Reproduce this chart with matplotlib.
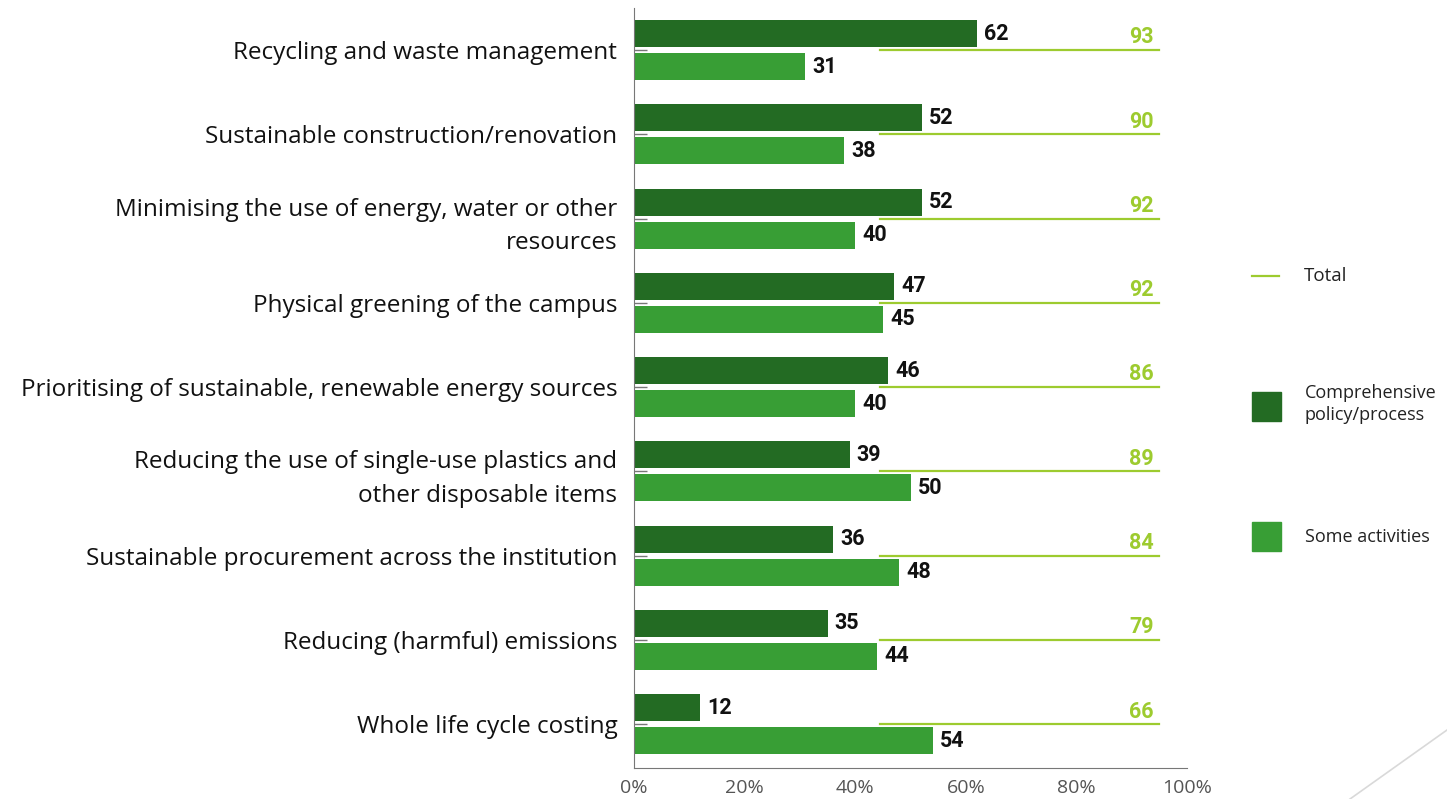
import matplotlib
matplotlib.use("Agg")
import matplotlib.pyplot as plt
from matplotlib.lines import Line2D
from matplotlib.patches import Rectangle
import numpy as np

plt.rcParams['font.family'] = ['Open Sans', 'DejaVu Sans']

categories = [
    "Recycling and waste management",
    "Sustainable construction/renovation",
    "Minimising the use of energy, water or other\nresources",
    "Physical greening of the campus",
    "Prioritising of sustainable, renewable energy sources",
    "Reducing the use of single-use plastics and\nother disposable items",
    "Sustainable procurement across the institution",
    "Reducing (harmful) emissions",
    "Whole life cycle costing",
]
comprehensive = [62, 52, 52, 47, 46, 39, 36, 35, 12]
some_activities = [31, 38, 40, 45, 40, 50, 48, 44, 54]
total = [93, 90, 92, 92, 86, 89, 84, 79, 66]
xticks = [0, 20, 40, 60, 80, 100]
xticklabels = ["0%", "20%", "40%", "60%", "80%", "100%"]

c_dark = "#236B23"
c_light = "#389E35"
c_total = "#9DCB2F"
num_font = ['Roboto', 'DejaVu Sans']

W, H = 1447, 799
fig = plt.figure(figsize=(W / 100, H / 100), dpi=100)
ax = fig.add_axes([634 / W, 1 - 768 / H, (1187 - 634) / W, (768 - 8) / H])

y = np.arange(len(categories))
bh = 0.32
off = 0.196
ax.barh(y - off, comprehensive, height=bh, color=c_dark, zorder=2)
ax.barh(y + off, some_activities, height=bh, color=c_light, zorder=2)

for i in range(len(categories)):
    ax.text(comprehensive[i] + 1.3, y[i] - off, str(comprehensive[i]), va="center", ha="left",
            fontsize=15.5, fontweight="bold", color="#111111", family=num_font)
    ax.text(some_activities[i] + 1.3, y[i] + off, str(some_activities[i]), va="center", ha="left",
            fontsize=15.5, fontweight="bold", color="#111111", family=num_font)
    ax.plot([44.5, 95], [y[i], y[i]], color=c_total, lw=1.6, zorder=1)
    ax.text(94.0, y[i] - 0.02, str(total[i]), va="bottom", ha="right",
            fontsize=15.5, fontweight="semibold", color=c_total, family=num_font)

ax.set_xlim(0, 100)
ax.set_ylim(8.52, -0.5)
ax.set_yticks(y)
ax.set_yticklabels(categories, fontsize=17.5, color="#111111", linespacing=1.52)
ax.tick_params(axis="y", direction="in", length=9, color="#777777", width=1, pad=12)
ax.set_xticks(xticks)
ax.set_xticklabels(xticklabels, fontsize=14, color="#555555")
ax.tick_params(axis="x", length=0, pad=8)
for s in ["top", "right"]:
    ax.spines[s].set_visible(False)
ax.spines["left"].set_color("#777777")
ax.spines["bottom"].set_color("#777777")

# legend (manual)
fig.add_artist(Line2D([1252 / W, 1279 / W], [1 - 276 / H] * 2, color=c_total, lw=1.6))
fig.text(1304 / W, 1 - 276 / H, "Total", va="center", ha="left", fontsize=13.5, color="#222222")
fig.add_artist(Rectangle((1252 / W, 1 - 421 / H), 29 / W, 29 / H, color=c_dark))
fig.text(1305 / W, 1 - 404 / H, "Comprehensive\npolicy/process", va="center", ha="left",
         fontsize=13, color="#222222", linespacing=1.25)
fig.add_artist(Rectangle((1252 / W, 1 - 551 / H), 29 / W, 29 / H, color=c_light))
fig.text(1305 / W, 1 - 537 / H, "Some activities", va="center", ha="left", fontsize=13, color="#222222")

# decorative diagonal line
fig.add_artist(Line2D([1350 / W, 1447 / W], [0, 69 / H], color="#d9d9d9", lw=1.2))

fig.savefig("out.png", dpi=100)
